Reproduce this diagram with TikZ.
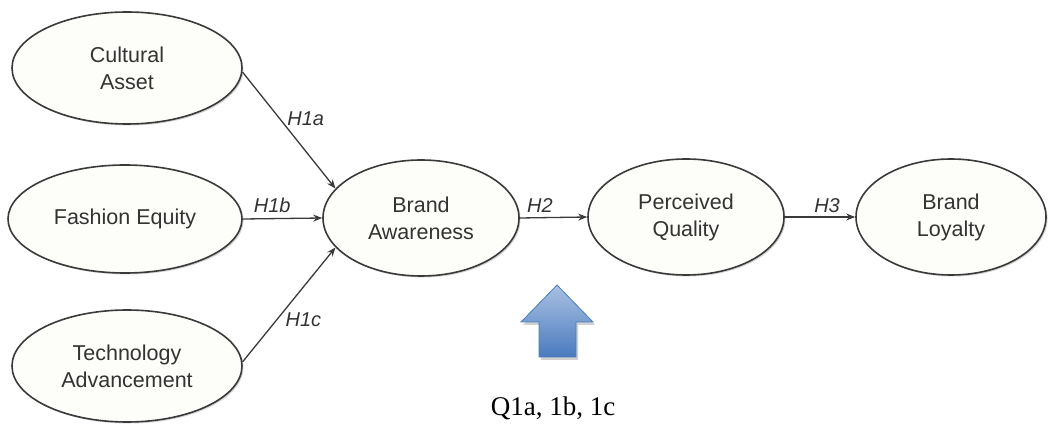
\documentclass[tikz,border=0pt]{standalone}
\usepackage{fontspec}
\setmainfont{Liberation Serif}
\newfontfamily\arialfont{Liberation Sans}
\usetikzlibrary{shapes.geometric,arrows.meta,shadows}
\definecolor{edgegray}{HTML}{3A3A3A}
\definecolor{txtgray}{HTML}{333333}
\definecolor{ellfill}{HTML}{FDFDFA}
\definecolor{arrowtop}{HTML}{A9C1E3}
\definecolor{arrowbot}{HTML}{4A7BBE}
\definecolor{arrowedge}{HTML}{4A7EBB}
\tikzset{
  construct/.style={ellipse, draw=edgegray, line width=1.6pt, fill=ellfill,
    inner sep=0pt, align=center, font=\arialfont\fontsize{21.5}{27}\selectfont,
    text=txtgray, drop shadow={shadow xshift=1.5pt, shadow yshift=-1.5pt, fill=black!35, opacity=0.5}},
  path/.style={draw=edgegray, line width=1.3pt, -{Stealth[length=9pt,width=7pt]}},
  hyp/.style={font=\arialfont\itshape\fontsize{20}{22}\selectfont, text=txtgray, inner sep=1pt}
}
\begin{document}
\begin{tikzpicture}[x=1pt,y=-1pt]
\useasboundingbox (0,0) rectangle (1049,435);
\node[construct, minimum width=230pt, minimum height=112pt] (ca) at (127,68) {Cultural\\Asset};
\node[construct, minimum width=234pt, minimum height=108pt] (fe) at (125,219) {Fashion Equity};
\node[construct, minimum width=230pt, minimum height=112pt] (ta) at (127,366) {Technology\\Advancement};
\node[construct, minimum width=196pt, minimum height=116pt] (ba) at (421,218) {Brand\\Awareness};
\node[construct, minimum width=196pt, minimum height=116pt] (pq) at (686,217) {Perceived\\Quality};
\node[construct, minimum width=190pt, minimum height=116pt] (bl) at (951,217) {Brand\\Loyalty};

\draw[path] (ca.-2) -- node[hyp, pos=0.4, right=6pt] {H1a} (ba.161);
\draw[path] (fe.east) -- node[hyp, pos=0.37, above=4pt] {H1b} (ba.west);
\draw[path] (ta.2) -- node[hyp, pos=0.37, right=7pt] {H1c} (ba.199);
\draw[path] (ba.east) -- node[hyp, pos=0.3, above=4pt] {H2} (pq.west);
\draw[path] (pq.east) -- node[hyp, pos=0.6, above=3pt] {H3} (bl.west);

% block arrow
\fill[black!18] (559,288) -- (595,325) -- (578,325) -- (578,360) -- (541,360) -- (541,325) -- (523,325) -- cycle;
\shade[top color=arrowtop, bottom color=arrowbot, draw=arrowedge, line width=0.8pt]
  (557,285) -- (593,322) -- (576,322) -- (576,357) -- (539,357) -- (539,322) -- (521,322) -- cycle;
\node[font=\fontsize{27}{30}\selectfont, text=black] (q) at (553,408) {Q1a, 1b, 1c};
\end{tikzpicture}
\end{document}
